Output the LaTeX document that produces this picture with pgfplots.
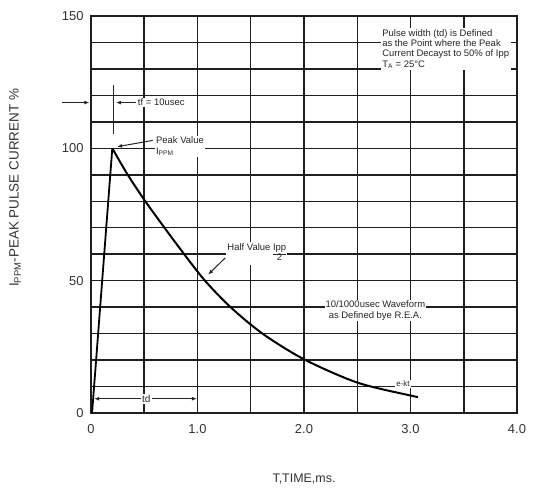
\documentclass[border=0pt]{standalone}
\usepackage{pgfplots}
\pgfplotsset{compat=1.18}
\usepackage{fontspec}
\setmainfont{Liberation Sans}
\usetikzlibrary{arrows.meta}
\begin{document}
\begin{tikzpicture}
\begin{axis}[
  scale only axis, width=426bp, height=397bp,
  xmin=0, xmax=4, ymin=0, ymax=150,
  xtick={0,1,2,3,4}, xticklabels={0,1.0,2.0,3.0,4.0},
  ytick={0,50,100,150},
  minor xtick={0.5,1.5,2.5,3.5},
  minor ytick={10,20,...,140},
  grid=both,
  major grid style={black!88, line width=1.5bp},
  minor grid style={black!88, line width=1.5bp},
  axis line style={black!88, line width=1.5bp},
  tick style={draw=none},
  ticklabel style={font=\fontsize{13}{15}\selectfont, text=black!80},
  xticklabel style={yshift=-8bp},
  yticklabel style={xshift=-4bp},
  /pgf/number format/assume math mode=true,
  clip=false,
]
% rise
\addplot[black, line width=1.8bp] coordinates {(0.01,0) (0.2,100)};
% decay
\addplot[black, line width=2bp, smooth] coordinates {
 (0.2,100) (0.345,90) (0.51,80) (0.69,70) (0.875,60) (1.07,50) (1.31,40)
 (1.61,30) (2.0,20.3) (2.5,11.5) (3.0,6.6) (3.07,6.1)};

% top-right note
\node[fill=white, anchor=north west, align=left, inner sep=1.5bp,
      font=\fontsize{9.5}{10.3}\selectfont, text=black!85]
  at (axis cs:2.72,145.5)
  {Pulse width (td) is Defined\\as the Point where the Peak\\Current Decayst to 50\% of Ipp\\T\textsubscript{A} = 25°C};

% tf arrows
\draw[-{Latex[length=5bp,width=4bp]}, line width=1bp, black!85]
  (axis cs:-0.27,117.3) -- (axis cs:-0.015,117.3);
\draw[line width=1bp, black!85] (axis cs:0.21,105.5) -- (axis cs:0.21,124);
\draw[-{Latex[length=5bp,width=4bp]}, line width=1bp, black!85]
  (axis cs:0.42,117.3) -- (axis cs:0.235,117.3);
\node[fill=white, anchor=west, inner sep=1bp, font=\fontsize{9.5}{11}\selectfont, text=black!85]
  at (axis cs:0.43,117.3) {tf = 10usec};

% peak value
\node[fill=white, align=left, anchor=west, inner sep=1bp,
      font=\fontsize{9.5}{10.5}\selectfont, text=black!85]
  at (axis cs:0.6,100.8) {Peak Value\\I\textsubscript{PPM}};
\draw[-{Latex[length=5bp,width=4bp]}, line width=1bp, black!85]
  (axis cs:0.58,103) -- (axis cs:0.245,100.6);

% half value
\node[fill=white, anchor=base west, inner sep=1bp,
      font=\fontsize{9.5}{10.5}\selectfont, text=black!85]
  at (axis cs:1.27,61.4)
  {Half Value \begin{tabular}[t]{@{}c@{}}\underline{Ipp}\\[-1pt]2\end{tabular}};
\draw[-{Latex[length=5bp,width=4bp]}, line width=1bp, black!85]
  (axis cs:1.26,58.6) -- (axis cs:1.10,52.3);

% waveform note
\node[fill=white, align=center, inner sep=1bp,
      font=\fontsize{9.5}{10.5}\selectfont, text=black!85]
  at (axis cs:2.67,38.7) {10/1000usec Waveform\\as Defined bye R.E.A.};

% e-kt
\node[fill=white, inner sep=1bp, font=\fontsize{8}{9}\selectfont, text=black!85]
  at (axis cs:2.93,11) {e-kt};

% td
\draw[{Latex[length=5bp,width=4bp]}-{Latex[length=5bp,width=4bp]}, line width=1bp, black!85]
  (axis cs:0.03,5.4) -- (axis cs:0.995,5.4);
\node[fill=white, inner sep=1.5bp, font=\fontsize{10}{11}\selectfont, text=black!85]
  at (axis cs:0.52,5.4) {td};

% axis labels
\node[font=\fontsize{12.5}{14}\selectfont, text=black!80]
  at ([yshift=-66bp]rel axis cs:0.5,0) {T,TIME,ms.};
\node[rotate=90, font=\fontsize{13.5}{15}\selectfont, text=black!80]
  at ([xshift=-76bp]rel axis cs:0,0.567)
  {I\textsubscript{PPM}-PEAK PULSE CURRENT \%};

% bounding box
\path ([xshift=-91bp,yshift=-78bp]rel axis cs:0,0) rectangle ([xshift=17bp,yshift=16bp]rel axis cs:1,1);
\end{axis}
\end{tikzpicture}
\end{document}
